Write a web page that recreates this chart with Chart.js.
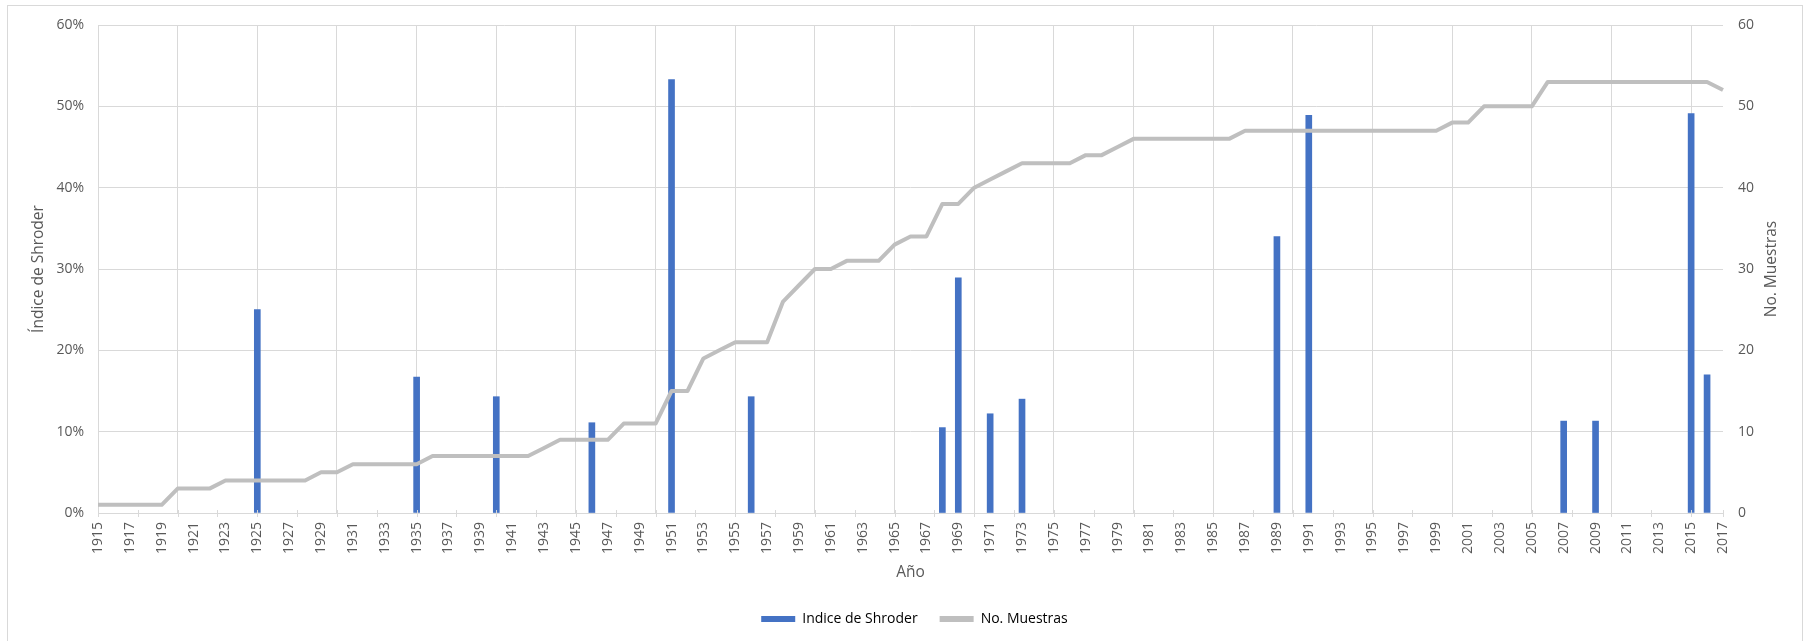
<!DOCTYPE html>
<html>
<head>
<meta charset="utf-8">
<script src="https://cdn.jsdelivr.net/npm/chart.js@4.4.1/dist/chart.umd.min.js"></script>
<style>
  html, body { margin: 0; padding: 0; background: #ffffff; overflow: hidden; }
  #wrap { position: relative; width: 1805px; height: 641px; }
  #frame { position: absolute; left: 7px; top: 5px; width: 1796px; height: 700px;
           border: 1px solid #D9D9D9; box-sizing: border-box; pointer-events: none; }
</style>
</head>
<body>
<div id="wrap">
  <canvas id="c" width="1805" height="641"></canvas>
  <div id="frame"></div>
</div>
<script>
// ---- Data ----
const years = [
  '1915','1916','1917','1918','1919','1920','1921','1922','1923','1924',
  '1925','1926','1927','1928','1929','1930','1931','1932','1933','1934',
  '1935','1936','1937','1938','1939','1940','1941','1942','1943','1944',
  '1945','1946','1947','1948','1949','1950','1951','1952','1953','1954',
  '1955','1956','1957','1958','1959','1960','1961','1962','1963','1964',
  '1965','1966','1967','1968','1969','1970','1971','1972','1973','1974',
  '1975','1976','1977','1978','1979','1980','1981','1982','1983','1984',
  '1985','1986','1987','1988','1989','1990','1991','1992','1993','1994',
  '1995','1996','1997','1998','1999','2000','2001','2002','2003','2004',
  '2005','2006','2007','2008','2009','2010','2011','2012','2013','2014',
  '2015','2016','2017'
];

// Índice de Shroder (%), only the years that have a bar
const shroderYears  = ['1925','1935','1940','1946','1951','1956','1968','1969','1971','1973','1989','1991','2007','2009','2015','2016'];
const shroderValues = [25.0, 16.7, 14.3, 11.1, 53.3, 14.3, 10.5, 28.9, 12.2, 14.0, 34.0, 48.9, 11.3, 11.3, 49.1, 17.0];

// No. Muestras, one value per year 1915..2017
const muestras = [
  1,1,1,1,1, 3,3,3, 4,4,4,4,4,4, 5,5, 6,6,6,6,6, 7,7,7,7,7,7,7, 8, 9,9,9,9,
  11,11,11, 15,15, 19, 20, 21,21,21, 26, 28, 30,30, 31,31,31, 33, 34,34, 38,38,
  40, 41, 42, 43,43,43,43, 44,44, 45, 46,46,46,46,46,46,46,
  47,47,47,47,47,47,47,47,47,47,47,47,47, 48,48, 50,50,50,50,
  53,53,53,53,53,53,53,53,53,53,53, 52
];

const leftTicks  = [0, 10, 20, 30, 40, 50, 60];
const rightTicks = [0, 10, 20, 30, 40, 50, 60];

const seriesNames = ['Indice de Shroder', 'No. Muestras'];
const axisTitles = { x: 'Año', yLeft: 'Índice de Shroder', yRight: 'No. Muestras' };

// ---- Styles ----
const FONT = "'Open Sans', 'Noto Sans', sans-serif";
const TEXT = '#595959';
const GRID = '#D9D9D9';
const BLUE = '#4472C4';
const GRAY = '#BFBFBF';

Chart.defaults.font.family = FONT;
Chart.defaults.font.size = 14;
Chart.defaults.color = TEXT;

const barData = shroderYears.map((y, i) => ({ x: y, y: shroderValues[i] }));

const extras = {
  id: 'extras',
  afterDraw(chart) {
    const { ctx, chartArea, scales } = chart;
    const xs = scales.x;
    ctx.save();
    // small cross tick marks on the category axis (every 2.5 categories + end)
    ctx.strokeStyle = GRID;
    ctx.lineWidth = 1;
    const n = years.length - 1;
    const pos = [];
    for (let k = 0; k * 2.5 <= n; k++) pos.push(k * 2.5);
    pos.push(n);
    ctx.beginPath();
    pos.forEach(v => {
      const x = Math.round(xs.getPixelForValue(v)) + 0.5;
      ctx.moveTo(x, chartArea.bottom - 3);
      ctx.lineTo(x, chartArea.bottom + 4);
    });
    ctx.stroke();
    // right axis title, reading bottom-to-top
    ctx.translate(1772, (chartArea.top + chartArea.bottom) / 2);
    ctx.rotate(-Math.PI / 2);
    ctx.textAlign = 'center';
    ctx.textBaseline = 'middle';
    ctx.font = "15.5px " + FONT;
    ctx.fillStyle = TEXT;
    ctx.fillText(axisTitles.yRight, 0, 0);
    ctx.restore();
  }
};

new Chart(document.getElementById('c'), {
  data: {
    labels: years,
    datasets: [
      {
        type: 'bar',
        label: seriesNames[0],
        data: barData,
        backgroundColor: BLUE,
        borderWidth: 0,
        barThickness: 6,
        yAxisID: 'y',
        order: 1
      },
      {
        type: 'line',
        label: seriesNames[1],
        data: muestras,
        borderColor: GRAY,
        backgroundColor: GRAY,
        borderWidth: 4,
        borderJoinStyle: 'round',
        pointRadius: 0,
        tension: 0,
        yAxisID: 'y1',
        order: 0
      }
    ]
  },
  options: {
    responsive: false,
    animation: false,
    layout: { padding: { left: 24, right: 0, top: 25, bottom: 5 } },
    plugins: {
      tooltip: { enabled: false },
      legend: {
        position: 'bottom',
        labels: {
          boxWidth: 34,
          boxHeight: 6,
          padding: 22,
          color: TEXT,
          font: { size: 14 },
          generateLabels(chart) {
            return chart.data.datasets.map((ds, i) => ({
              text: ds.label,
              fillStyle: i === 0 ? BLUE : GRAY,
              strokeStyle: i === 0 ? BLUE : GRAY,
              lineWidth: 0,
              hidden: false,
              datasetIndex: i
            }));
          }
        }
      }
    },
    scales: {
      x: {
        type: 'category',
        offset: false,
        grid: {
          offset: false,
          drawTicks: false,
          color: (c) => (c.index % 5 === 0 ? GRID : 'rgba(0,0,0,0)'),
          lineWidth: 1
        },
        border: { display: true, color: GRID },
        ticks: {
          autoSkip: false,
          minRotation: 90,
          maxRotation: 90,
          padding: 9,
          color: TEXT,
          font: { size: 14 },
          callback: function (v, i) { return i % 2 === 0 ? this.getLabelForValue(v) : ''; }
        },
        title: {
          display: true,
          text: axisTitles.x,
          color: TEXT,
          font: { size: 15.5 },
          padding: { top: 0, bottom: 8 }
        },
        afterFit(s) { s.height = 77; s.paddingLeft = 0; s.paddingRight = 0; s.paddingTop = 0; s.paddingBottom = 0; }
      },
      y: {
        position: 'left',
        min: leftTicks[0],
        max: leftTicks[leftTicks.length - 1],
        afterBuildTicks(s) { s.ticks = leftTicks.map(v => ({ value: v })); },
        grid: { color: GRID, lineWidth: 1, drawTicks: false },
        border: { display: false },
        ticks: {
          padding: 14,
          color: TEXT,
          font: { size: 14 },
          callback: (v) => v + '%'
        },
        title: {
          display: true,
          text: axisTitles.yLeft,
          color: TEXT,
          font: { size: 15.5 },
          padding: { top: 5, bottom: 0 }
        },
        afterFit(s) { s.width = 74; s.paddingTop = 0; s.paddingBottom = 0; s.paddingLeft = 0; s.paddingRight = 0; }
      },
      y1: {
        position: 'right',
        min: rightTicks[0],
        max: rightTicks[rightTicks.length - 1],
        afterBuildTicks(s) { s.ticks = rightTicks.map(v => ({ value: v })); },
        grid: { display: false, drawTicks: false },
        border: { display: false },
        ticks: { padding: 15, color: TEXT, font: { size: 14 } },
        title: { display: false },
        afterFit(s) { s.width = 82; s.paddingTop = 0; s.paddingBottom = 0; s.paddingLeft = 0; s.paddingRight = 0; }
      }
    }
  },
  plugins: [extras]
});
</script>
</body>
</html>
